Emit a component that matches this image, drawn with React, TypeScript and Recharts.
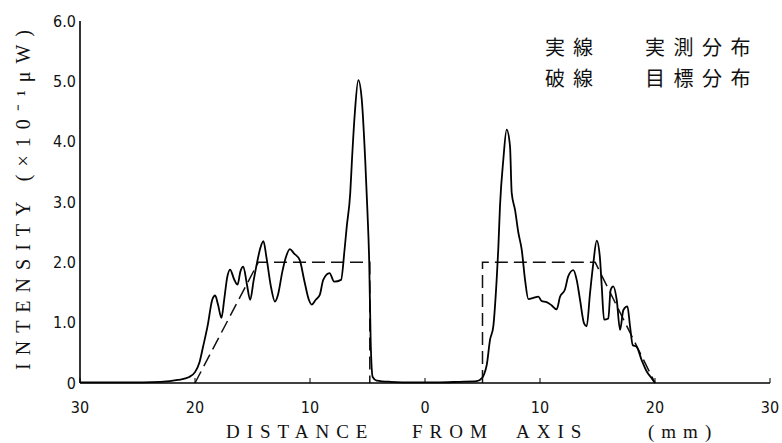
import React from 'react';
import { LineChart, Line, XAxis, YAxis } from 'recharts';

// measured distribution (solid): [distance mm, intensity]
const measured: [number, number][] = [
    [-30, 0.01], [-26, 0.01], [-23, 0.02], [-21.5, 0.05], [-20.5, 0.1], [-20, 0.18],
    [-19.6, 0.35], [-19.3, 0.6], [-18.9, 0.95], [-18.5, 1.38], [-18.25, 1.45], [-18.0, 1.3],
    [-17.7, 1.08], [-17.45, 1.4], [-17.2, 1.75], [-16.95, 1.88], [-16.6, 1.72], [-16.3, 1.63],
    [-16.05, 1.85], [-15.8, 1.93], [-15.5, 1.65], [-15.2, 1.38], [-14.9, 1.7], [-14.6, 2.0],
    [-14.3, 2.25], [-14.05, 2.35], [-13.8, 2.1], [-13.4, 1.6], [-13.05, 1.35], [-12.8, 1.45],
    [-12.4, 1.85], [-12.15, 2.05], [-11.75, 2.22], [-11.4, 2.15], [-10.9, 2.04], [-10.5, 1.7],
    [-10.1, 1.38], [-9.85, 1.3], [-9.5, 1.38], [-9.15, 1.46], [-8.85, 1.71], [-8.3, 1.82],
    [-7.9, 1.68], [-7.3, 1.71], [-7.0, 2.2], [-6.8, 2.6], [-6.5, 3.15], [-6.35, 3.7],
    [-6.1, 4.48], [-5.8, 5.02], [-5.5, 4.7], [-5.2, 3.7], [-5.0, 2.82], [-4.85, 2.0],
    [-4.72, 0.66], [-4.55, 0.1], [-4.2, 0.04], [-3, 0.02], [-1, 0.01], [1, 0.01],
    [3, 0.02], [4.5, 0.03], [4.95, 0.08], [5.15, 0.15], [5.37, 0.3], [5.65, 0.71],
    [5.94, 0.94], [6.23, 1.71], [6.37, 2.21], [6.52, 2.93], [6.81, 3.7], [7.1, 4.2],
    [7.39, 3.93], [7.54, 3.15], [7.83, 2.87], [8.12, 2.49], [8.41, 2.21], [8.7, 1.71],
    [8.99, 1.39], [9.42, 1.41], [9.86, 1.43], [10.14, 1.36], [10.58, 1.34], [11.0, 1.29],
    [11.45, 1.22], [11.74, 1.43], [12.17, 1.55], [12.46, 1.77], [12.9, 1.87], [13.19, 1.71],
    [13.48, 1.38], [13.83, 0.99], [14.06, 0.94], [14.35, 1.49], [14.64, 1.99], [14.93, 2.36],
    [15.2, 2.1], [15.37, 1.6], [15.57, 1.05], [15.94, 1.07], [16.14, 1.54], [16.37, 1.6],
    [16.67, 1.38], [16.96, 0.88], [17.25, 1.21], [17.6, 1.27], [17.83, 0.94], [18.06, 0.63],
    [18.4, 0.6], [18.84, 0.38], [19.28, 0.19], [19.71, 0.08], [20.0, 0.0],
];

// target distribution (dashed), null splits the two halves
const target: [number, number | null][] = [
    [-20, 0], [-14.5, 2.0], [-4.8, 2.0], [-4.8, 0],
    [0, null],
    [5, 0], [5, 2.0], [14.8, 2.0], [20, 0],
];

const xTicks = [-30, -20, -10, 0, 10, 20, 30];
const yTicks = [0, 1, 2, 3, 4, 5, 6];

const legendRows = [
    ['実線', '実測分布'],
    ['破線', '目標分布'],
];

// x axis title words and where each starts
const xTitleWords: [string, number][] = [
    ['DISTANCE', 226],
    ['FROM', 412],
    ['AXIS', 516],
    ['(mm)', 648],
];

const measuredData = measured.map(([x, y]) => ({ x, y }));
const targetData = target.map(([x, y]) => ({ x, y }));

const tickFont = { fontFamily: '"Liberation Sans Narrow", "DejaVu Sans Condensed", sans-serif', fontSize: 16, fill: '#111' };
const labelFont = '"Liberation Serif", serif';

const App: React.FC = () => {
    return (
        <div style={{ position: 'absolute', left: 0, top: 0, width: 782, height: 443, background: '#fff' }}>
            <LineChart width={782} height={443} data={measuredData} margin={{ top: 21, right: 12, bottom: 30, left: 0 }}>
                <XAxis
                    type="number"
                    dataKey="x"
                    domain={[-30, 30]}
                    ticks={xTicks}
                    tickFormatter={(v: number) => String(Math.abs(v))}
                    allowDuplicatedCategory={false}
                    axisLine={{ stroke: '#000', strokeWidth: 1.6 }}
                    tickLine={{ stroke: '#000', strokeWidth: 1 }}
                    tickSize={-5}
                    tickMargin={24}
                    height={30}
                    tick={tickFont}
                />
                <YAxis
                    type="number"
                    domain={[0, 6]}
                    ticks={yTicks}
                    tickFormatter={(v: number) => (v === 0 ? '0' : v.toFixed(1))}
                    axisLine={{ stroke: '#000', strokeWidth: 1.6 }}
                    tickLine={false}
                    tickSize={0}
                    tickMargin={4}
                    width={80}
                    tick={tickFont}
                />
                <Line
                    data={targetData}
                    dataKey="y"
                    type="linear"
                    stroke="#111"
                    strokeWidth={1.5}
                    strokeDasharray="13 6"
                    dot={false}
                    connectNulls={false}
                    isAnimationActive={false}
                />
                <Line
                    data={measuredData}
                    dataKey="y"
                    type="monotone"
                    stroke="#000"
                    strokeWidth={1.8}
                    dot={false}
                    isAnimationActive={false}
                />
            </LineChart>

            <div style={{
                position: 'absolute',
                left: 22,
                top: 196,
                transform: 'translate(-50%, -50%) rotate(-90deg)',
                whiteSpace: 'nowrap',
                fontFamily: labelFont,
                fontSize: 20,
                letterSpacing: 8,
                color: '#111'
            }}>
                INTENSITY (×10⁻¹μW)
            </div>

            {xTitleWords.map(([w, left]) => (
                <div key={w} style={{
                    position: 'absolute',
                    left,
                    top: 421,
                    whiteSpace: 'nowrap',
                    fontFamily: labelFont,
                    fontSize: 19,
                    lineHeight: '22px',
                    letterSpacing: 7,
                    color: '#111'
                }}>
                    {w}
                </div>
            ))}

            <div style={{ position: 'absolute', left: 545, top: 31, fontFamily: '"Noto Sans CJK JP", sans-serif', fontSize: 20, color: '#111' }}>
                {legendRows.map(([a, b]) => (
                    <div key={a} style={{ display: 'flex', lineHeight: '31px' }}>
                        <span style={{ width: 100, letterSpacing: 8 }}>{a}</span>
                        <span style={{ letterSpacing: 8.5 }}>{b}</span>
                    </div>
                ))}
            </div>
        </div>
    );
};

export default App;
